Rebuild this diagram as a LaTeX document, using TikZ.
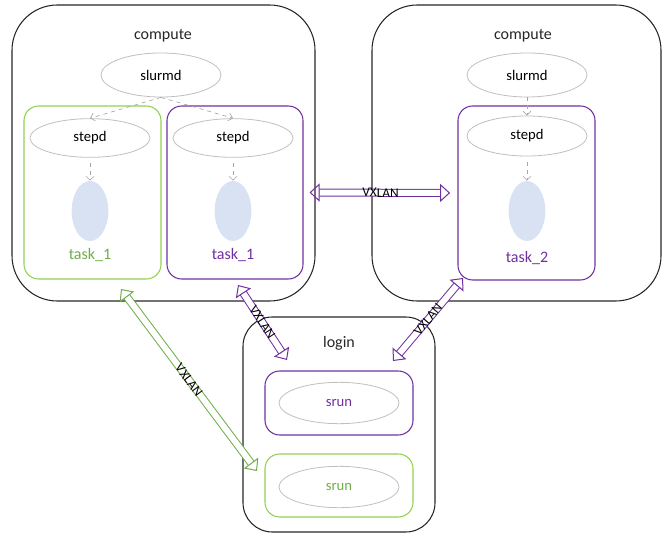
\documentclass[tikz,border=0pt]{standalone}
\usepackage{fontspec}
\setmainfont{Carlito}
\usetikzlibrary{arrows.meta,fit,positioning,shapes.geometric}

\definecolor{jobgreen}{HTML}{92D050}
\definecolor{txtgreen}{HTML}{70AD47}
\definecolor{jobpurple}{HTML}{7030A0}
\definecolor{procgray}{HTML}{BFBFBF}
\definecolor{taskblue}{HTML}{D9E2F3}
\definecolor{dashgray}{HTML}{A6A6A6}

\begin{document}
\begin{tikzpicture}[x=0.75pt,y=-0.75pt,
    host/.style={draw=black!85,line width=0.8pt,rounded corners=34pt,inner sep=0pt},
    job/.style={draw=#1,line width=0.8pt,rounded corners=11pt,inner sep=0pt},
    proc/.style={ellipse,draw=procgray,line width=0.6pt,minimum width=90pt,
                 minimum height=29pt,font=\fontsize{11}{13}\selectfont},
    task/.style={ellipse,fill=taskblue,minimum width=27.5pt,minimum height=45pt},
    hosttitle/.style={font=\fontsize{12}{14}\selectfont,text=black!85},
    spawn/.style={draw=dashgray,dashed,line width=0.5pt,-{Straight Barb[length=3pt,width=6pt]}},
    vxlan/.style={draw=#1,line width=0.75pt,double=white,double distance=4.5pt,
                  {Triangle[open,length=7.5pt,width=13.5pt,line width=0.75pt]}-{Triangle[open,length=7.5pt,width=13.5pt,line width=0.75pt]}},
    vxlabel/.style={midway,sloped,inner sep=0pt,font=\fontsize{10}{12}\selectfont}]

  \useasboundingbox (0,0) rectangle (663,534);

  % hosts
  \node[host,fit={(12,5) (315,301)}] (cmpL) {};
  \node[host,fit={(372,5) (661,301)}] (cmpR) {};
  \node[host,rounded corners=22pt,fit={(243,317) (435,532)}] (login) {};

  \node[hosttitle] (tcmpL) at (163,36) {compute};
  \node[hosttitle] (tcmpR) at (523,36) {compute};
  \node[hosttitle] (tlogin) at (339,343) {login};

  % job steps
  \node[job=jobgreen,fit={(24,106) (161,279)}] (jobGL) {};
  \node[job=jobpurple,fit={(167,106) (303,279)}] (jobPL) {};
  \node[job=jobpurple,fit={(458,106) (595,280)}] (jobPR) {};
  \node[job=jobpurple,fit={(265,371) (413,435)}] (jobPS) {};
  \node[job=jobgreen,fit={(265,454) (413,517)}] (jobGS) {};

  % daemons
  \node[proc,minimum height=33pt] (slurmdL) at (161,75) {slurmd};
  \node[proc] (stepdL) at (90,138) {stepd};
  \node[proc] (stepdM) at (233,138) {stepd};
  \node[proc,minimum height=33pt] (slurmdR) at (527,75) {slurmd};
  \node[proc,minimum height=30pt] (stepdR) at (527,136) {stepd};
  \node[proc,minimum height=31pt,text=jobpurple] (srunP) at (339,403) {srun};
  \node[proc,minimum height=31pt,text=txtgreen] (srunG) at (339,487) {srun};

  % tasks
  \node[task] (taskL) at (90,211) {};
  \node[task] (taskM) at (233,211) {};
  \node[task] (taskR) at (527,211) {};
  \node[hosttitle,text=txtgreen] (ltaskL) at (90,255) {task\_1};
  \node[hosttitle,text=jobpurple] (ltaskM) at (233,255) {task\_1};
  \node[hosttitle,text=jobpurple] (ltaskR) at (527,258) {task\_2};

  \draw[spawn] (slurmdL.south) -- (stepdL.north);
  \draw[spawn] (slurmdL.south) -- (stepdM.north);
  \draw[spawn] (slurmdR.south) -- (stepdR.north);
  \foreach \s/\t in {stepdL/taskL,stepdM/taskM,stepdR/taskR}
    \draw[spawn,shorten <=4pt] (\s.south) -- (\t.north);

  % vxlan links
  \coordinate (gA) at (121,289);
  \coordinate (gB) at (257,471);
  \coordinate (pA) at (238,285);
  \coordinate (pB) at (287,360);
  \coordinate (qA) at (463,278);
  \coordinate (qB) at (393,361);

  \draw[vxlan=jobpurple,shorten <=4.5pt,shorten >=5.5pt] (jobPL.east) -- node[vxlabel] {VXLAN} (jobPR.west);
  \draw[vxlan=txtgreen] (gA) -- node[vxlabel] {VXLAN} (gB);
  \draw[vxlan=jobpurple] (pA) -- node[vxlabel] {VXLAN} (pB);
  \draw[vxlan=jobpurple] (qA) -- node[vxlabel] {VXLAN} (qB);

\end{tikzpicture}
\end{document}
